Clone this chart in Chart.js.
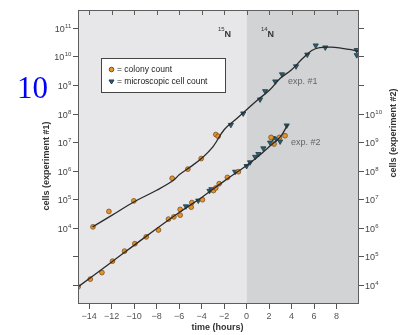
<!DOCTYPE html>
<html>
<head>
<meta charset="utf-8">
<script src="https://cdn.jsdelivr.net/npm/chart.js@4/dist/chart.umd.min.js"></script>
<style>
  body { margin: 0; background: #fff; }
</style>
</head>
<body>
<canvas id="growthChart" width="401" height="335"></canvas>
<script>
// time axis ticks (hours) and log10 decade ticks for both y axes
const xTicks = [-14, -12, -10, -8, -6, -4, -2, 0, 2, 4, 6, 8];
const leftTicks = [2, 3, 4, 5, 6, 7, 8, 9, 10, 11];
const leftLabelled = [4, 5, 6, 7, 8, 9, 10, 11];
const rightTicks = [4, 5, 6, 7, 8, 9, 10, 11, 12, 13];
const rightLabelled = [4, 5, 6, 7, 8, 9, 10];

// experiment #1 (left axis, log10 cells)
const exp1ColonyT = [-13.67, -12.25, -10.03, -6.62, -5.23, -4.04, -2.74, -2.53];
const exp1ColonyLog = [4.05, 4.59, 4.96, 5.75, 6.07, 6.44, 7.28, 7.22];
const exp1MicroT = [-1.4, -0.3, 1.2, 1.65, 2.55, 3.15, 4.4, 5.4, 6.15, 7.0, 9.8, 9.8];
const exp1MicroLog = [7.62, 8.02, 8.51, 8.8, 9.14, 9.39, 9.67, 10.08, 10.4, 10.33, 10.06, 10.24];
const exp1FitT = [-13.7, -12, -10, -8, -6.5, -6, -5, -4, -3, -2, -1, 0, 1, 2, 3, 4, 5, 5.8, 6.5, 7.5, 8.5, 9.3, 10];
const exp1FitLog = [4.05, 4.45, 4.93, 5.33, 5.68, 5.87, 6.15, 6.45, 6.85, 7.45, 7.8, 8.15, 8.5, 8.82, 9.25, 9.55, 9.95, 10.22, 10.32, 10.34, 10.3, 10.25, 10.18];

// experiment #2 (right axis, log10 cells)
const exp2ColonyT = [-14.99, -13.91, -12.87, -11.93, -10.86, -9.94, -8.93, -7.84, -6.95, -6.47, -5.91, -5.91, -4.93, -4.87, -3.93, -2.95, -2.74, -2.44, -1.71, -0.73, 2.18, 2.44, 2.92, 3.42];
const exp2ColonyLog = [3.95, 4.22, 4.45, 4.85, 5.2, 5.46, 5.7, 5.94, 6.32, 6.4, 6.46, 6.66, 6.74, 6.9, 7.0, 7.32, 7.41, 7.56, 7.78, 7.98, 9.18, 8.95, 9.18, 9.24];
const exp2MicroT = [-5.4, -4.3, -3.3, -3.13, -1.02, 0.0, 0.31, 0.76, 1.05, 1.49, 2.09, 2.33, 2.62, 2.98, 3.57];
const exp2MicroLog = [6.77, 6.97, 7.31, 7.37, 7.98, 8.18, 8.31, 8.5, 8.6, 8.8, 9.0, 9.16, 9.13, 9.04, 9.6];
const exp2FitT = [-15, -12, -9, -6, -4, -2, 0, 1, 2, 3, 3.65];
const exp2FitLog = [3.95, 4.82, 5.7, 6.55, 7.08, 7.65, 8.2, 8.5, 8.85, 9.2, 9.62];

const pts = (ts, ys) => ts.map((t, i) => ({ x: t, y: ys[i] }));
const SANS = '"Liberation Sans", Arial, Helvetica, sans-serif';

function drawPow(ctx, x, y, exp, align) {
    ctx.font = '9px ' + SANS;
    const w1 = ctx.measureText('10').width;
    ctx.font = '6px ' + SANS;
    const w2 = ctx.measureText(String(exp)).width;
    const x0 = align === 'right' ? x - w1 - w2 : x;
    ctx.textAlign = 'left';
    ctx.textBaseline = 'alphabetic';
    ctx.font = '9px ' + SANS;
    ctx.fillText('10', x0, y + 3.5);
    ctx.font = '6px ' + SANS;
    ctx.fillText(String(exp), x0 + w1 + 0.3, y - 0.5);
}

const decor = {
    id: 'decor',
    beforeDraw(chart) {
        const { ctx, chartArea: a, scales: { x } } = chart;
        const x0 = x.getPixelForValue(0);
        ctx.save();
        ctx.fillStyle = '#e7e7e9';
        ctx.fillRect(a.left, a.top, x0 - a.left, a.bottom - a.top);
        ctx.fillStyle = '#d2d3d5';
        ctx.fillRect(x0, a.top, a.right - x0, a.bottom - a.top);
        ctx.restore();
    },
    afterDraw(chart) {
        const { ctx, chartArea: a, scales: { x, y, y2 } } = chart;
        ctx.save();

        // frame and inward top ticks
        ctx.strokeStyle = '#5e5e5e';
        ctx.lineWidth = 1;
        ctx.strokeRect(a.left + 0.5, a.top + 0.5, a.right - a.left - 1, a.bottom - a.top - 1);
        ctx.beginPath();
        for (const t of xTicks) {
            const px = Math.round(x.getPixelForValue(t)) + 0.5;
            ctx.moveTo(px, a.top);
            ctx.lineTo(px, a.top + 5);
        }
        ctx.stroke();

        // decade labels
        ctx.fillStyle = '#444';
        for (const e of leftLabelled) drawPow(ctx, a.left - 7, y.getPixelForValue(e), e, 'right');
        for (const e of rightLabelled) drawPow(ctx, a.right + 6, y2.getPixelForValue(e), e, 'left');

        // axis titles
        ctx.fillStyle = '#333';
        ctx.font = 'bold 9px ' + SANS;
        ctx.textAlign = 'center';
        ctx.textBaseline = 'middle';
        ctx.fillText('time (hours)', (a.left + a.right) / 2 - 1, 328);
        ctx.save();
        ctx.translate(46.5, 166);
        ctx.rotate(-Math.PI / 2);
        ctx.fillText('cells (experiment #1)', 0, 0);
        ctx.restore();
        ctx.save();
        ctx.translate(393.5, 133);
        ctx.rotate(-Math.PI / 2);
        ctx.fillText('cells (experiment #2)', 0, 0);
        ctx.restore();

        // isotope labels
        ctx.fillStyle = '#333';
        ctx.textAlign = 'left';
        ctx.textBaseline = 'alphabetic';
        ctx.font = '6px ' + SANS;
        ctx.fillText('15', 218, 31);
        ctx.fillText('14', 261, 31);
        ctx.font = 'bold 9px ' + SANS;
        ctx.fillText('N', 224.5, 36.5);
        ctx.fillText('N', 267.5, 36.5);

        // series annotations
        ctx.fillStyle = '#666';
        ctx.font = '9px ' + SANS;
        ctx.textBaseline = 'middle';
        ctx.fillText('exp. #1', 288, 82);
        ctx.fillText('exp. #2', 291, 143);

        // legend
        ctx.fillStyle = '#fff';
        ctx.fillRect(101, 58.5, 124, 34);
        ctx.strokeStyle = '#444';
        ctx.strokeRect(101.5, 58.5, 124, 34);
        ctx.fillStyle = '#e8922a';
        ctx.strokeStyle = '#7a5020';
        ctx.beginPath();
        ctx.arc(111.5, 69.5, 2.3, 0, Math.PI * 2);
        ctx.fill();
        ctx.stroke();
        ctx.fillStyle = '#2d5f72';
        ctx.strokeStyle = '#1c3a46';
        ctx.beginPath();
        ctx.moveTo(109, 80);
        ctx.lineTo(114, 80);
        ctx.lineTo(111.5, 84);
        ctx.closePath();
        ctx.fill();
        ctx.stroke();
        ctx.fillStyle = '#222';
        ctx.font = '8.5px ' + SANS;
        ctx.fillText('= colony count', 117, 69.5);
        ctx.fillText('= microscopic cell count', 117, 82);

        // stray label at the left
        ctx.fillStyle = '#0000ff';
        ctx.font = '31px "Liberation Serif", "Times New Roman", serif';
        ctx.textBaseline = 'alphabetic';
        ctx.fillText('10', 17, 98);

        ctx.restore();
    }
};

const colonyStyle = {
    pointStyle: 'circle', pointRadius: 2.4, borderWidth: 0.8,
    backgroundColor: '#e8922a', borderColor: '#7a5020', showLine: false
};
const microStyle = {
    pointStyle: 'triangle', rotation: 180, pointRadius: 3.0, borderWidth: 0.8,
    backgroundColor: '#2d5f72', borderColor: '#1c3a46', showLine: false
};
const fitStyle = {
    showLine: true, pointRadius: 0, borderColor: '#2a2a2a', borderWidth: 1.3,
    tension: 0.4, fill: false
};

const tickGrid = { display: true, drawOnChartArea: false, drawTicks: true, tickLength: 5, color: '#555' };

new Chart(document.getElementById('growthChart'), {
    type: 'scatter',
    data: {
        datasets: [
            { label: 'fit #1', data: pts(exp1FitT, exp1FitLog), yAxisID: 'y', ...fitStyle },
            { label: 'fit #2', data: pts(exp2FitT, exp2FitLog), yAxisID: 'y2', ...fitStyle },
            { label: 'colony #1', data: pts(exp1ColonyT, exp1ColonyLog), yAxisID: 'y', ...colonyStyle },
            { label: 'micro #1', data: pts(exp1MicroT, exp1MicroLog), yAxisID: 'y', ...microStyle },
            { label: 'colony #2', data: pts(exp2ColonyT, exp2ColonyLog), yAxisID: 'y2', ...colonyStyle },
            { label: 'micro #2', data: pts(exp2MicroT, exp2MicroLog), yAxisID: 'y2', ...microStyle }
        ]
    },
    options: {
        responsive: false,
        devicePixelRatio: 1,
        animation: false,
        layout: { padding: { top: 10, left: 0, right: 0, bottom: 0 } },
        plugins: { legend: { display: false }, tooltip: { enabled: false } },
        scales: {
            x: {
                type: 'linear', min: -15, max: 10,
                afterBuildTicks: s => { s.ticks = xTicks.map(v => ({ value: v })); },
                afterFit: s => { s.height = 31; },
                grid: tickGrid,
                border: { display: false },
                ticks: {
                    padding: 2, color: '#555', font: { family: SANS, size: 9 },
                    callback: v => v < 0 ? '\u2212' + (-v) : String(v)
                }
            },
            y: {
                type: 'linear', position: 'left', min: 1.35, max: 11.64,
                afterBuildTicks: s => { s.ticks = leftTicks.map(v => ({ value: v })); },
                afterFit: s => { s.width = 78; },
                grid: tickGrid,
                border: { display: false },
                ticks: { display: false }
            },
            y2: {
                type: 'linear', position: 'right', min: 3.35, max: 13.64,
                afterBuildTicks: s => { s.ticks = rightTicks.map(v => ({ value: v })); },
                afterFit: s => { s.width = 42; },
                grid: tickGrid,
                border: { display: false },
                ticks: { display: false }
            }
        }
    },
    plugins: [decor]
});
</script>
</body>
</html>
